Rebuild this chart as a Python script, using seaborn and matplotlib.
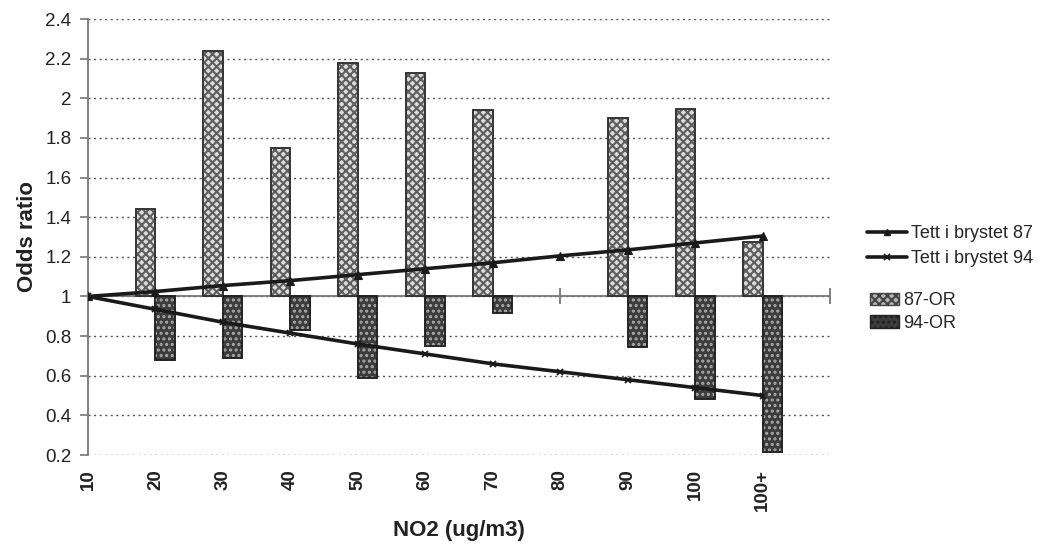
import numpy as np
import matplotlib
matplotlib.use("Agg")
import matplotlib.pyplot as plt
from matplotlib.patches import Patch
from matplotlib.lines import Line2D
import seaborn as sns

# NO2 exposure categories
categories = ["10", "20", "30", "40", "50", "60", "70", "80", "90", "100", "100+"]

# Odds ratios per category (no estimate for the reference group and 80)
or_87 = [np.nan, 1.44, 2.24, 1.75, 2.18, 2.13, 1.94, np.nan, 1.90, 1.945, 1.275]
or_94 = [np.nan, 0.68, 0.69, 0.83, 0.59, 0.75, 0.915, np.nan, 0.745, 0.485, 0.215]

# Fitted trend lines for "tett i brystet"
trend_87 = [1.00, 1.025, 1.055, 1.08, 1.11, 1.14, 1.17, 1.205, 1.235, 1.27, 1.305]
trend_94 = [1.00, 0.935, 0.87, 0.815, 0.76, 0.71, 0.66, 0.62, 0.58, 0.54, 0.50]

y_ticks = [0.2, 0.4, 0.6, 0.8, 1.0, 1.2, 1.4, 1.6, 1.8, 2.0, 2.2, 2.4]
y_tick_labels = ["0.2", "0.4", "0.6", "0.8", "1", "1.2", "1.4", "1.6", "1.8", "2", "2.2", "2.4"]

sns.set_theme(style="white")
plt.rcParams["font.family"] = ["Liberation Sans", "DejaVu Sans"]
plt.rcParams["hatch.linewidth"] = 1.5

fig = plt.figure(figsize=(10.42, 5.56), dpi=100)
ax = fig.add_axes([88 / 1042, 1 - 455 / 556, (830 - 88) / 1042, (455 - 19) / 556])

pos = np.arange(len(categories))
bw = 0.29

LIGHT_FACE, LIGHT_HATCH = "#dcdcdc", "#5e5e5e"
DARK_FACE, DARK_HATCH = "#3c3c3c", "#a8a8a8"

# horizontal gridlines
for yv in y_ticks:
    ax.axhline(yv, color="#555555", lw=1.0, ls=(0, (1.5, 2.5)), zorder=0)

# odds-ratio bars drawn from the baseline OR = 1
v87 = np.array(or_87, dtype=float)
v94 = np.array(or_94, dtype=float)
ok87 = ~np.isnan(v87)
ok94 = ~np.isnan(v94)

# 87-OR: light stipple
ax.bar(pos[ok87] - bw / 2, v87[ok87] - 1, bottom=1, width=bw,
       color=LIGHT_FACE, edgecolor="#333333", lw=1.2, zorder=2)
ax.bar(pos[ok87] - bw / 2, v87[ok87] - 1, bottom=1, width=bw,
       fill=False, hatch="xxxx", edgecolor=LIGHT_HATCH, lw=0, zorder=3)
# 94-OR: dark stipple
ax.bar(pos[ok94] + bw / 2, v94[ok94] - 1, bottom=1, width=bw,
       color=DARK_FACE, edgecolor="#222222", lw=1.2, zorder=2)
ax.bar(pos[ok94] + bw / 2, v94[ok94] - 1, bottom=1, width=bw,
       fill=False, hatch="...", edgecolor=DARK_HATCH, lw=0, zorder=3)
# crisp outlines on top of the stipple
ax.bar(pos[ok87] - bw / 2, v87[ok87] - 1, bottom=1, width=bw, fill=False,
       edgecolor="#333333", lw=1.2, zorder=4)
ax.bar(pos[ok94] + bw / 2, v94[ok94] - 1, bottom=1, width=bw, fill=False,
       edgecolor="#222222", lw=1.2, zorder=4)

# category axis crossing at OR = 1
ax.axhline(1.0, color="#777777", lw=1.3, zorder=1)
ax.plot([7, 11], [1.0, 1.0], ls="none", marker="|", ms=12, mew=1.3,
        color="#777777", zorder=1)

# trend lines
sns.lineplot(x=pos, y=trend_87, color="#1a1a1a", lw=2.6, marker="^",
             markersize=6, markeredgewidth=0.8, markeredgecolor="#1a1a1a",
             ax=ax, zorder=5)
sns.lineplot(x=pos, y=trend_94, color="#1a1a1a", lw=2.6, marker="x",
             markersize=5, markeredgewidth=1.3, markeredgecolor="#1a1a1a",
             ax=ax, zorder=5)

ax.set_xlim(0, 11)
ax.set_ylim(0.2, 2.4)
ax.set_yticks(y_ticks)
ax.set_yticklabels(y_tick_labels, fontsize=13.5, color="#222222")
ax.set_xticks(pos)
ax.set_xticklabels(categories, rotation=90, fontsize=13.5, fontweight="bold",
                   color="#222222")
ax.tick_params(axis="x", length=0, pad=10)
ax.tick_params(axis="y", length=6, width=1.2, color="#777777", pad=6,
               direction="out", left=True)

for s in ["top", "right", "bottom"]:
    ax.spines[s].set_visible(False)
ax.spines["left"].set_color("#777777")
ax.spines["left"].set_linewidth(1.3)
ax.grid(False)

ax.set_xlabel("NO2 (ug/m3)", fontsize=16, fontweight="bold", color="#222222")
ax.xaxis.set_label_coords(0.5, -0.15)
ax.set_ylabel("Odds ratio", fontsize=16, fontweight="bold", color="#222222",
              labelpad=5)

# legends
line_handles = [
    Line2D([], [], color="#1a1a1a", lw=2.6, marker="^", ms=5),
    Line2D([], [], color="#1a1a1a", lw=2.6, marker="x", ms=5, mew=1.3),
]
fig.legend(line_handles, ["Tett i brystet 87", "Tett i brystet 94"],
           loc="center left", bbox_to_anchor=(860 / 1042, 1 - 246 / 556),
           frameon=False, fontsize=13, handlelength=2.2, handletextpad=0.2,
           labelspacing=0.45, borderaxespad=0)
bar_handles = [
    Patch(facecolor="#b4b4b4", edgecolor="#444444", hatch="xxxx"),
    Patch(facecolor=DARK_FACE, edgecolor="#222222", hatch="..."),
]
fig.legend(bar_handles, ["87-OR", "94-OR"],
           loc="center left", bbox_to_anchor=(863 / 1042, 1 - 312 / 556),
           frameon=False, fontsize=13, handlelength=1.6, handleheight=0.7,
           handletextpad=0.25, labelspacing=0.3, borderaxespad=0)

fig.savefig("out.png", dpi=100, facecolor="white")
